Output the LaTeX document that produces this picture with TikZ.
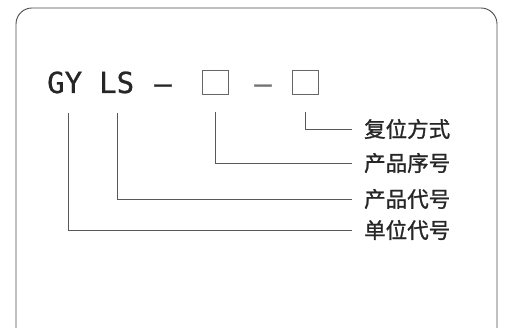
\documentclass[tikz,border=0pt]{standalone}
\usepackage{fontspec}
\newfontfamily\cjk{Noto Sans CJK SC}[FakeBold=1.2]
\newfontfamily\codefont{DejaVu Sans Mono}[FakeBold=0.8]
\tikzset{codetext/.style={font=\codefont\fontsize{29}{29}\selectfont, inner sep=0pt, text=black!85},
  slot/.style={draw=black!60, line width=0.8pt, minimum width=26pt, minimum height=24pt, inner sep=0pt},
  namelabel/.style={font=\cjk\fontsize{21.5}{21.5}\selectfont, anchor=west, inner sep=0pt, text=black!85},
  leader/.style={draw=black!65, line width=0.7pt, shorten >=12pt}}

\begin{document}
\begin{tikzpicture}[x=1pt,y=-1pt]
                \useasboundingbox (0,0) rectangle (505,328);
                \draw[black!70, line width=0.9pt, rounded corners=16pt] (16,8) rectangle (497,345);
                % model code
                \node[codetext, anchor=base west] (gy) at (47,93) {GY};
                \node[codetext, anchor=base west] (ls) at (99,93) {LS};
                \node[codetext] (dash1) at (163,89) {–};
                \node[slot] (box1) at (215,82) {};
                \node[codetext, text=black!55] (dash2) at (263,89) {–};
                \node[slot] (box2) at (305,82) {};
                % meanings
                \node[namelabel] (fuwei) at (364,129) {复位方式};
                \node[namelabel] (xuhao) at (364,163) {产品序号};
                \node[namelabel] (daihao) at (364,199) {产品代号};
                \node[namelabel] (danwei) at (364,230) {单位代号};
                % leaders
                \draw[leader] ([shift={(0,18)}]box2.south) |- (fuwei.west);
                \draw[leader] ([shift={(0,18)}]box1.south) |- (xuhao.west);
                \draw[leader] ([shift={(1,19)}]ls.south) |- (daihao.west);
                \draw[leader] ([shift={(3.5,19)}]gy.south) |- (danwei.west);
            \end{tikzpicture}
\end{document}
